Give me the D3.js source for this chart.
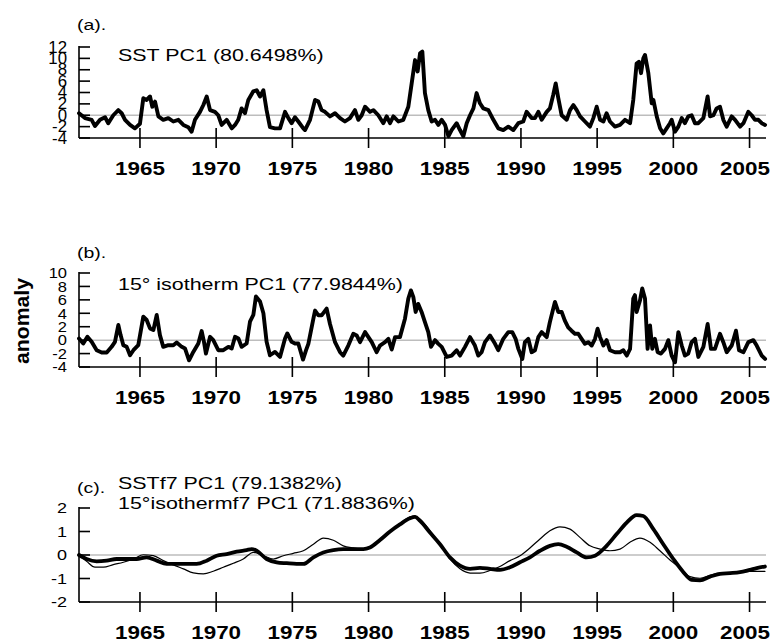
<!DOCTYPE html>
<html>
<head>
<meta charset="utf-8">
<script src="https://cdn.jsdelivr.net/npm/d3@7"></script>
<style>
  body { margin: 0; background: #fff; }
  svg { display: block; font-family: Arial, "Liberation Sans", sans-serif; }
</style>
</head>
<body>
<svg id="chart" width="780" height="643"></svg>
<script>
// x axis ticks
const yearTicks = [1965, 1970, 1975, 1980, 1985, 1990, 1995, 2000, 2005];
const ticksA = [-4, -2, 0, 2, 4, 6, 8, 10, 12];
const ticksB = [-4, -2, 0, 2, 4, 6, 8, 10];
const ticksC = [-2, -1, 0, 1, 2];

// (a) SST PC1, [year, anomaly]
const sstPC1 = [[1961.00,0.35],[1961.39,-0.5],[1961.83,-0.8],[1962.05,-1.9],[1962.38,-0.8],[1962.71,-0.35],[1962.92,-1.4],[1963.25,0],[1963.58,0.9],[1963.80,0.35],[1964.02,-0.8],[1964.35,-1.7],[1964.67,-2.3],[1965.00,-1.5],[1965.22,3.0],[1965.44,2.7],[1965.66,3.3],[1965.81,1.5],[1965.99,2.4],[1966.21,-0.2],[1966.53,-0.8],[1966.86,-0.5],[1967.19,-1.1],[1967.52,-0.8],[1967.85,-1.7],[1968.17,-2.1],[1968.39,-2.9],[1968.61,-0.8],[1968.94,0.6],[1969.16,1.8],[1969.38,3.3],[1969.60,0.9],[1969.92,0.6],[1970.14,0],[1970.36,-1.7],[1970.69,-0.8],[1971.02,-2.3],[1971.24,-1.7],[1971.45,-0.8],[1971.67,1.2],[1971.89,0.35],[1972.11,2.7],[1972.44,4.2],[1972.66,4.4],[1972.88,3.3],[1973.10,4.4],[1973.31,0.9],[1973.53,-2.1],[1973.86,-2.3],[1974.19,-2.3],[1974.52,0.6],[1974.74,-0.5],[1974.95,-1.4],[1975.17,-0.35],[1975.39,-1.1],[1975.72,-2.3],[1975.83,-2.6],[1976.16,-0.8],[1976.49,2.7],[1976.71,2.4],[1976.92,0.9],[1977.14,0.6],[1977.47,-0.2],[1977.80,0.35],[1978.13,-0.5],[1978.45,-1.1],[1978.78,-0.5],[1979.11,0.9],[1979.33,-0.8],[1979.55,0],[1979.77,1.5],[1980.10,0.6],[1980.32,0.9],[1980.64,0],[1980.97,-1.4],[1981.19,-0.2],[1981.41,-1.4],[1981.63,-0.2],[1981.96,-1.1],[1982.28,-0.8],[1982.61,1.5],[1982.83,5.6],[1983.05,9.7],[1983.22,7.7],[1983.38,10.9],[1983.53,11.2],[1983.70,3.9],[1983.92,0.9],[1984.14,-1.1],[1984.36,-0.8],[1984.58,-1.7],[1984.80,-0.8],[1985.02,-1.7],[1985.24,-3.7],[1985.45,-2.6],[1985.78,-1.4],[1986.00,-2.6],[1986.22,-3.7],[1986.44,-1.4],[1986.66,0],[1986.88,1.2],[1987.09,3.9],[1987.31,2.1],[1987.53,1.2],[1987.86,0.9],[1988.19,-0.8],[1988.51,-2.3],[1988.84,-2.6],[1989.17,-2.0],[1989.50,-2.6],[1989.83,-1.4],[1990.15,-1.1],[1990.37,0.6],[1990.70,-0.5],[1990.92,-0.5],[1991.14,0.6],[1991.36,-0.8],[1991.69,0.6],[1991.90,1.2],[1992.12,3.6],[1992.28,5.6],[1992.45,3.0],[1992.67,0],[1993.00,-0.8],[1993.22,0.9],[1993.44,1.8],[1993.66,0.9],[1993.88,-0.2],[1994.20,-1.1],[1994.53,-2.0],[1994.75,-0.5],[1994.97,1.5],[1995.19,-0.8],[1995.41,-1.1],[1995.62,0.35],[1995.84,-1.1],[1996.17,-2.0],[1996.50,-1.7],[1996.83,-0.8],[1997.16,-1.4],[1997.37,2.7],[1997.59,9.1],[1997.74,9.4],[1997.88,7.4],[1998.03,10.0],[1998.14,10.6],[1998.36,7.4],[1998.58,2.1],[1998.69,2.7],[1998.91,-0.2],[1999.13,-2.3],[1999.34,-3.2],[1999.56,-2.3],[1999.78,-1.4],[1999.89,-0.8],[2000.11,-2.9],[2000.33,-2.0],[2000.55,-0.5],[2000.76,-1.4],[2000.98,-0.2],[2001.20,0],[2001.42,-1.4],[2001.64,-1.4],[2001.97,-0.5],[2002.25,3.3],[2002.41,-0.2],[2002.63,0],[2002.84,1.2],[2003.06,1.5],[2003.28,-0.8],[2003.50,-2.0],[2003.83,-0.2],[2004.05,-0.8],[2004.38,-2.0],[2004.60,-1.4],[2004.92,0.6],[2005.14,0],[2005.36,-0.8],[2005.58,-0.8],[2005.80,-1.4],[2006.02,-1.7]];

// (b) 15 deg isotherm PC1
const isoPC1 = [[1961.00,0.25],[1961.28,-0.5],[1961.55,0.5],[1961.83,-0.25],[1962.16,-1.5],[1962.49,-1.85],[1962.82,-1.85],[1963.14,-1.0],[1963.36,-0.25],[1963.58,2.25],[1963.73,0.75],[1963.91,-0.75],[1964.13,-1.0],[1964.35,-2.25],[1964.57,-1.5],[1964.89,-0.75],[1965.22,3.5],[1965.44,3.0],[1965.66,1.75],[1965.88,1.5],[1966.10,3.75],[1966.31,0.75],[1966.53,-1.0],[1966.86,-0.75],[1967.19,-0.75],[1967.41,-0.35],[1967.74,-1.0],[1967.96,-1.25],[1968.22,-3.0],[1968.50,-1.75],[1968.83,-0.5],[1969.05,1.35],[1969.20,-0.25],[1969.33,-2.0],[1969.60,0.5],[1969.81,0],[1970.14,-1.5],[1970.47,-1.5],[1970.80,-1.0],[1971.02,-1.25],[1971.24,0.5],[1971.46,0.25],[1971.67,-1.0],[1972.00,-0.5],[1972.22,2.75],[1972.44,3.75],[1972.61,6.5],[1972.88,5.75],[1973.10,4.0],[1973.31,-0.25],[1973.53,-2.25],[1973.86,-1.75],[1974.19,-2.5],[1974.52,0.25],[1974.67,1.0],[1974.95,-0.25],[1975.17,-0.5],[1975.39,-0.5],[1975.70,-2.9],[1975.90,-1.5],[1976.05,-0.55],[1976.38,3.2],[1976.49,4.4],[1976.71,3.7],[1976.92,3.7],[1977.25,4.7],[1977.47,2.4],[1977.80,-0.3],[1978.13,-1.8],[1978.34,-2.3],[1978.67,-0.8],[1979.00,0.95],[1979.22,0.7],[1979.44,-0.3],[1979.77,1.2],[1979.99,0.45],[1980.21,-0.3],[1980.53,-1.8],[1980.75,-0.8],[1981.08,-0.3],[1981.30,0.2],[1981.52,-1.4],[1981.74,0.45],[1982.06,0.45],[1982.39,3.2],[1982.61,6.2],[1982.78,7.4],[1982.94,6.4],[1983.09,4.2],[1983.26,5.4],[1983.48,4.2],[1983.70,2.7],[1983.92,1.2],[1984.10,-1.0],[1984.36,0],[1984.58,-0.55],[1984.80,-1.0],[1985.13,-2.5],[1985.45,-2.3],[1985.78,-1.5],[1986.00,-2.3],[1986.33,-1.0],[1986.66,0.45],[1986.98,-0.8],[1987.20,-2.3],[1987.42,-1.8],[1987.64,-0.3],[1987.97,0.7],[1988.30,-0.55],[1988.51,-1.5],[1988.84,0.2],[1989.17,1.2],[1989.43,1.2],[1989.65,0.2],[1989.83,-1.3],[1990.09,-2.8],[1990.26,-0.3],[1990.48,0.2],[1990.70,-1.8],[1990.92,-1.5],[1991.14,0.45],[1991.36,1.2],[1991.69,0.45],[1991.90,2.7],[1992.23,5.7],[1992.45,4.2],[1992.67,4.2],[1992.88,2.9],[1993.10,1.9],[1993.32,1.4],[1993.54,0.95],[1993.76,0.95],[1993.98,0.2],[1994.20,-0.55],[1994.42,-0.3],[1994.64,-0.8],[1994.86,0.2],[1995.03,1.7],[1995.19,0.45],[1995.41,-0.8],[1995.62,0],[1995.84,-1.5],[1996.17,-1.8],[1996.50,-1.8],[1996.72,-1.5],[1996.94,-2.3],[1997.16,-1.3],[1997.37,6.2],[1997.48,6.7],[1997.59,4.2],[1997.81,5.9],[1997.96,7.7],[1998.14,6.2],[1998.31,-1.3],[1998.47,2.2],[1998.62,-1.3],[1998.79,0.2],[1998.97,-1.8],[1999.19,-2.0],[1999.45,-1.3],[1999.67,0],[1999.89,-2.3],[2000.11,-3.3],[2000.33,1.2],[2000.55,-0.8],[2000.76,-2.3],[2000.98,-2.0],[2001.20,-0.3],[2001.42,0.2],[2001.64,-2.5],[2001.97,-1.0],[2002.25,2.4],[2002.47,-1.3],[2002.73,-1.3],[2003.06,0.95],[2003.28,-0.3],[2003.50,-1.8],[2003.83,-0.8],[2004.11,1.4],[2004.31,-1.5],[2004.60,-1.8],[2004.92,-0.3],[2005.25,0],[2005.47,-0.8],[2005.80,-2.3],[2006.02,-2.8]];

// (c) filtered PCs: SSTf7 (thick) and 15 deg isothermf7 (thin)
const sstF7 = [[1961.00,0],[1961.50,-0.17],[1962.16,-0.27],[1962.82,-0.24],[1963.47,-0.17],[1964.13,-0.17],[1964.78,-0.17],[1965.44,-0.1],[1966.10,-0.24],[1966.75,-0.38],[1967.41,-0.38],[1968.06,-0.38],[1968.72,-0.38],[1969.38,-0.24],[1970.03,-0.03],[1970.69,0.04],[1971.35,0.14],[1972.00,0.21],[1972.33,0.25],[1972.66,0.18],[1973.31,-0.17],[1973.97,-0.31],[1974.63,-0.35],[1975.28,-0.38],[1975.72,-0.38],[1976.38,-0.1],[1977.03,0.11],[1977.69,0.21],[1978.34,0.25],[1979.00,0.25],[1979.66,0.25],[1980.09,0.32],[1980.75,0.64],[1981.41,1.0],[1982.06,1.3],[1982.72,1.56],[1983.05,1.62],[1983.38,1.45],[1984.03,0.96],[1984.69,0.46],[1985.34,-0.1],[1986.00,-0.45],[1986.66,-0.59],[1987.31,-0.55],[1987.97,-0.59],[1988.62,-0.63],[1989.28,-0.52],[1989.94,-0.31],[1990.59,-0.1],[1991.25,0.18],[1991.90,0.39],[1992.45,0.46],[1993.00,0.35],[1993.66,0.11],[1994.31,-0.1],[1994.86,-0.03],[1995.62,0.39],[1996.28,0.89],[1996.94,1.38],[1997.59,1.7],[1998.03,1.66],[1998.69,1.1],[1999.34,0.46],[2000.00,-0.17],[2000.66,-0.73],[2001.20,-1.06],[2001.75,-1.08],[2002.41,-0.92],[2003.06,-0.8],[2003.72,-0.77],[2004.37,-0.73],[2005.03,-0.63],[2005.47,-0.56],[2006.01,-0.49]];
const isoF7 = [[1961.00,0],[1961.50,-0.27],[1962.05,-0.52],[1962.60,-0.52],[1963.25,-0.41],[1963.91,-0.31],[1964.57,-0.17],[1965.22,0.01],[1965.88,-0.03],[1966.53,-0.24],[1967.19,-0.42],[1967.85,-0.59],[1968.50,-0.76],[1969.16,-0.8],[1969.81,-0.69],[1970.47,-0.52],[1971.13,-0.35],[1971.78,-0.17],[1972.44,0.11],[1973.10,-0.03],[1973.75,-0.17],[1974.41,-0.03],[1975.06,0.07],[1975.72,0.18],[1976.38,0.46],[1977.03,0.72],[1977.69,0.63],[1978.34,0.39],[1979.00,0.3],[1979.66,0.25],[1980.09,0.3],[1980.75,0.65],[1981.41,1.0],[1982.06,1.34],[1982.72,1.62],[1983.05,1.66],[1983.38,1.52],[1984.03,1.03],[1984.69,0.46],[1985.34,-0.17],[1986.00,-0.59],[1986.66,-0.77],[1987.31,-0.77],[1987.97,-0.66],[1988.62,-0.49],[1989.28,-0.24],[1989.94,-0.03],[1990.59,0.3],[1991.25,0.68],[1991.90,1.03],[1992.56,1.2],[1993.22,1.1],[1993.87,0.75],[1994.53,0.39],[1995.19,0.25],[1995.84,0.18],[1996.50,0.25],[1997.15,0.54],[1997.81,0.72],[1998.47,0.54],[1999.12,0.18],[1999.78,-0.21],[2000.44,-0.55],[2001.09,-0.92],[2001.75,-0.99],[2002.41,-0.87],[2003.06,-0.77],[2003.72,-0.77],[2004.37,-0.73],[2005.03,-0.7],[2006.01,-0.7]];

const svg = d3.select("#chart");

const x = d3.scaleLinear().domain([1961, 2006.08]).range([79, 766]);

// text helper: the original figure is stretched sideways, so widen glyphs with sx
function addText(parent, px, py, str, o) {
    const g = parent.append("g").attr("transform", `translate(${px},${py})`);
    const t = g.append("text")
        .attr("transform", `scale(${o.sx || 1},1)`)
        .attr("text-anchor", o.anchor || "start")
        .attr("dy", "0.35em")
        .style("font-size", o.size + "px")
        .style("font-weight", o.weight || "normal")
        .style("fill", "#000")
        .text(str);
    return t;
}

function drawPanel(p) {
    const y = d3.scaleLinear().domain(p.domain).range(p.range);
    const g = svg.append("g");
    const y0 = y(p.domain[0]);

    // zero reference line
    g.append("line")
        .attr("x1", x.range()[0]).attr("x2", x.range()[1])
        .attr("y1", y(0)).attr("y2", y(0))
        .style("stroke", "#bdbdbd").style("stroke-width", 1.5);

    // series
    p.series.forEach(s => {
        g.append("path")
            .datum(s.data)
            .attr("d", d3.line().x(d => x(d[0])).y(d => y(d[1])).curve(s.curve || d3.curveLinear))
            .style("fill", "none")
            .style("stroke", "#000")
            .style("stroke-width", s.width)
            .style("stroke-linejoin", "round")
            .style("stroke-linecap", "round");
    });

    // x axis: line + crossing ticks
    g.append("line")
        .attr("x1", x.range()[0]).attr("x2", x.range()[1])
        .attr("y1", y0).attr("y2", y0)
        .style("stroke", "#000").style("stroke-width", 1.6);
    g.selectAll(".xt").data(yearTicks).enter().append("line")
        .attr("x1", d => x(d)).attr("x2", d => x(d))
        .attr("y1", y0 - 10).attr("y2", y0 + 10)
        .style("stroke", "#000").style("stroke-width", 1.6);
    yearTicks.forEach(d => {
        // keep the last label inside the plot's right edge like the original
        const px = Math.min(x(d), 745);
        addText(g, px, y0 + 30, String(d), { size: 19, weight: "bold", anchor: "middle", sx: 1.18 });
    });

    // y axis: line + inward ticks
    const yTop = y(p.ticks[p.ticks.length - 1]);
    g.append("line")
        .attr("x1", x.range()[0]).attr("x2", x.range()[0])
        .attr("y1", yTop - 1).attr("y2", y0)
        .style("stroke", "#000").style("stroke-width", 1.6);
    g.selectAll(".yt").data(p.ticks).enter().append("line")
        .attr("x1", x.range()[0]).attr("x2", x.range()[0] + 11)
        .attr("y1", d => y(d)).attr("y2", d => y(d))
        .style("stroke", "#000").style("stroke-width", 1.6);
    p.ticks.forEach(d => {
        addText(g, 67, y(d), String(d), { size: p.tickSize, anchor: "end", sx: p.tickSx });
    });

    // panel label and titles
    addText(g, 77, p.labelY, p.label, { size: 15, sx: 1.3 });
    p.titles.forEach(t => addText(g, 118, t.y, t.text, { size: 16, sx: 1.34 }));
}

drawPanel({
    domain: [-4, 12], range: [138, 47], ticks: ticksA, tickSize: 16, tickSx: 1.05,
    label: "(a).", labelY: 25,
    titles: [{ text: "SST PC1 (80.6498%)", y: 55 }],
    series: [{ data: sstPC1, width: 3.9 }]
});

drawPanel({
    domain: [-4, 10], range: [367, 273], ticks: ticksB, tickSize: 15, tickSx: 1.1,
    label: "(b).", labelY: 253,
    titles: [{ text: "15° isotherm PC1 (77.9844%)", y: 284 }],
    series: [{ data: isoPC1, width: 3.9 }]
});

drawPanel({
    domain: [-2, 2], range: [602, 508], ticks: ticksC, tickSize: 15, tickSx: 1.2,
    label: "(c).", labelY: 488,
    titles: [{ text: "SSTf7 PC1 (79.1382%)", y: 483 }, { text: "15°isothermf7 PC1 (71.8836%)", y: 503 }],
    series: [
        { data: isoF7, width: 1.2, curve: d3.curveMonotoneX },
        { data: sstF7, width: 3.8, curve: d3.curveMonotoneX }
    ]
});

// shared y label
svg.append("text")
    .attr("transform", "translate(22,321) rotate(-90)")
    .attr("text-anchor", "middle")
    .attr("dy", "0.35em")
    .attr("textLength", 86)
    .attr("lengthAdjust", "spacingAndGlyphs")
    .style("font-size", "20px")
    .style("font-weight", "bold")
    .text("anomaly");
</script>
</body>
</html>
